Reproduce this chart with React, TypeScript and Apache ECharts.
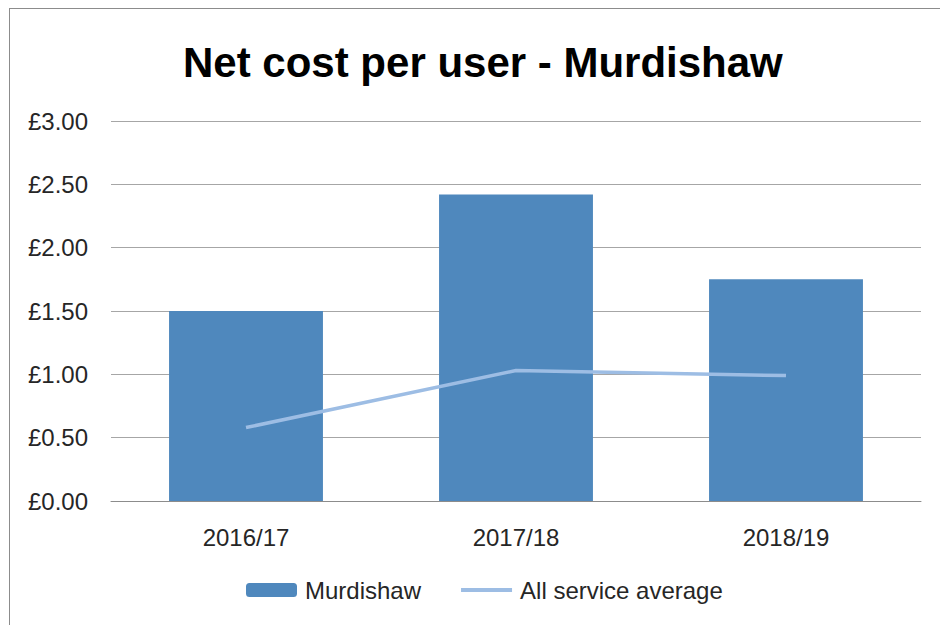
import React, { useEffect, useRef } from "react";
import * as echarts from "echarts";

const titleText = "Net cost per user - Murdishaw";
const categories = ["2016/17", "2017/18", "2018/19"];
const murdishaw = [1.5, 2.42, 1.75];
const serviceAverage = [0.58, 1.03, 0.99];
const seriesNames = ["Murdishaw", "All service average"];

const FONT = "'Liberation Sans', Arial, sans-serif";

export default function App() {
  const ref = useRef<HTMLDivElement>(null);
  useEffect(() => {
    if (!ref.current) return;
    const chart = echarts.init(ref.current, undefined, { renderer: "svg" });
    chart.setOption({
      animation: false,
      backgroundColor: "#ffffff",
      textStyle: { fontFamily: FONT },
      title: {
        text: titleText,
        left: 178,
        top: 36,
        textStyle: { fontFamily: FONT, fontSize: 42, fontWeight: "bold", color: "#000000" },
      },
      grid: { left: 111, right: 19, top: 121, bottom: 124, containLabel: false },
      legend: {
        left: 241,
        top: 573,
        itemWidth: 51,
        itemHeight: 14,
        itemGap: 38,
        lineStyle: { width: 4 },
        textStyle: { fontFamily: FONT, fontSize: 24, color: "#262626", padding: [0, 0, 0, 3] },
        data: seriesNames,
      },
      xAxis: {
        type: "category",
        data: categories,
        axisLine: { lineStyle: { color: "#8c8c8c", width: 1 } },
        axisTick: { show: false },
        axisLabel: { fontFamily: FONT, fontSize: 24, color: "#262626", margin: 24 },
      },
      yAxis: {
        type: "value",
        min: 0,
        max: 3,
        interval: 0.5,
        axisLine: { show: false },
        axisTick: { show: false },
        splitLine: { lineStyle: { color: "#a6a6a6", width: 1 } },
        axisLabel: {
          fontFamily: FONT,
          fontSize: 24,
          color: "#262626",
          margin: 23,
          formatter: (v: number) => "£" + v.toFixed(2),
        },
      },
      series: [
        {
          name: seriesNames[0],
          type: "bar",
          data: murdishaw,
          barWidth: "57%",
          itemStyle: { color: "#4f88bd" },
        },
        {
          name: seriesNames[1],
          type: "line",
          data: serviceAverage,
          symbol: "none",
          lineStyle: { color: "#9dbde4", width: 3.5 },
          itemStyle: { color: "#9dbde4", opacity: 0 },
        },
      ],
      graphic: [
        { type: "line", shape: { x1: 9, y1: 8.5, x2: 940, y2: 8.5 }, style: { stroke: "#8c8c8c", lineWidth: 1 } },
        { type: "line", shape: { x1: 9.5, y1: 8, x2: 9.5, y2: 625 }, style: { stroke: "#8c8c8c", lineWidth: 1 } },
      ],
    });
    return () => chart.dispose();
  }, []);
  return <div ref={ref} style={{ width: 940, height: 625, position: "fixed", left: 0, top: 0 }} />;
}
